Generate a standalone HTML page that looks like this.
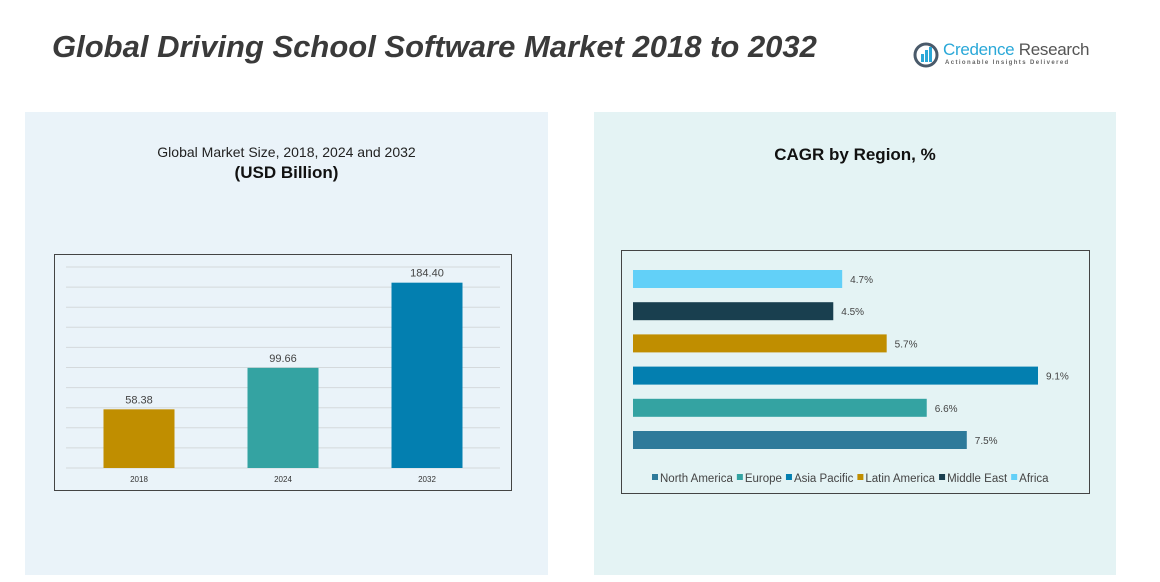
<!DOCTYPE html>
<html><head><meta charset="utf-8"><style>
body{margin:0;width:1160px;height:582px;background:#fff;font-family:"Liberation Sans",sans-serif;position:relative;overflow:hidden}
.abs{position:absolute}
</style></head><body>
<div class="abs" style="left:52px;top:29px;font-size:31px;font-weight:bold;font-style:italic;color:#3a3a3a;white-space:nowrap">Global Driving School Software Market 2018 to 2032</div>
<div class="abs" style="left:912px;top:40px;width:180px;height:30px">
<svg width="30" height="30" style="position:absolute;left:0;top:0"><circle cx="14" cy="15" r="11" fill="none" stroke="#4a5a6a" stroke-width="3"/><rect x="9" y="14" width="3" height="8" fill="#2aa8d8"/><rect x="13" y="10" width="3" height="12" fill="#2aa8d8"/><rect x="17" y="7" width="3" height="15" fill="#2aa8d8"/></svg>
<div class="abs" style="left:31px;top:0;font-size:17px;white-space:nowrap;letter-spacing:-0.3px"><span style="color:#2aa8d8">Credence</span> <span style="color:#555">Research</span></div>
<div class="abs" style="left:33px;top:20px;font-size:6px;letter-spacing:1.4px;color:#666;white-space:nowrap;font-weight:bold">Actionable Insights Delivered</div>
</div>
<div class="abs" style="left:25px;top:112px;width:523px;height:463px;background:#eaf3f9"></div>
<div class="abs" style="left:594px;top:112px;width:522px;height:463px;background:#e4f3f4"></div>
<div class="abs" style="left:25px;top:144px;width:523px;text-align:center;font-size:14px;color:#222">Global Market Size, 2018, 2024 and 2032</div>
<div class="abs" style="left:25px;top:163px;width:523px;text-align:center;font-size:17px;font-weight:bold;color:#111">(USD Billion)</div>
<div class="abs" style="left:594px;top:145px;width:522px;text-align:center;font-size:17px;font-weight:bold;color:#111">CAGR by Region, %</div>
<svg class="abs" style="left:0;top:0" width="1160" height="582" id="svg">
<rect x="54.5" y="254.5" width="457" height="236" fill="none" stroke="#444" stroke-width="1"/>
<rect x="621.5" y="250.5" width="468" height="243" fill="none" stroke="#444" stroke-width="1"/>
<g id="left"></g><g id="right"></g>
</svg>
<script>
const years=["2018","2024","2032"];
const sizes=[58.38,99.66,184.40];
const sizeLabels=["58.38","99.66","184.40"];
const regions=["Africa","Middle East","Latin America","Asia Pacific","Europe","North America"];
const cagr=[4.7,4.5,5.7,9.1,6.6,7.5];
const cagrLabels=["4.7%","4.5%","5.7%","9.1%","6.6%","7.5%"];
const legendOrder=["North America","Europe","Asia Pacific","Latin America","Middle East","Africa"];
const colors={"North America":"#2e7a9a","Europe":"#34a3a2","Asia Pacific":"#037fb0","Latin America":"#c08e00","Middle East":"#193f4f","Africa":"#62d0f8"};
const yearColors=["#c08e00","#34a3a2","#037fb0"];
const NS="http://www.w3.org/2000/svg";
function mk(p,t,a){const e=document.createElementNS(NS,t);for(const k in a)e.setAttribute(k,a[k]);p.appendChild(e);return e;}
const L=document.getElementById('left');
const y=v=>468-v*(201/200);
for(let g=0;g<=200;g+=20){const l=mk(L,'line',{x1:66,x2:500,y1:y(g),y2:y(g),stroke:'#d4d9dc','stroke-width':1});

}
const cx=i=>139+i*144;
years.forEach((yr,i)=>{
const r=mk(L,'rect',{x:cx(i)-35.5,y:y(sizes[i]),width:71,height:468-y(sizes[i]),fill:yearColors[i]});


const t=mk(L,'text',{x:cx(i),y:y(sizes[i])-6,'text-anchor':'middle','font-size':11,fill:'#444'});t.textContent=sizeLabels[i];


const a=mk(L,'text',{x:cx(i),y:482,'text-anchor':'middle','font-size':8,fill:'#333'});a.textContent=yr;


});
const R=document.getElementById('right');
const xs=v=>633+v*(405/9.1);
regions.forEach((rg,i)=>{
const cy=279+i*32.2;
const r=mk(R,'rect',{x:633,y:cy-9,width:xs(cagr[i])-633,height:18,fill:colors[rg]});


const t=mk(R,'text',{x:xs(cagr[i])+8,y:cy+4,'font-size':10,fill:'#444'});t.textContent=cagrLabels[i];


});
let lx=652;
legendOrder.forEach(rg=>{
const g=mk(R,'g',{});


mk(g,'rect',{x:lx,y:474,width:6,height:6,fill:colors[rg]});
const t=mk(g,'text',{x:lx+8,y:482,'font-size':11.5,fill:'#444'});t.textContent=rg;
lx+=8+t.getComputedTextLength()+4;
});
</script>
</body></html>
